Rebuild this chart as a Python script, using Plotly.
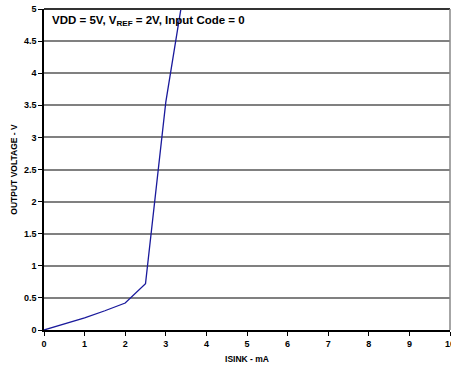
import plotly.graph_objects as go

isink_ma = [0, 0.5, 1.0, 1.5, 2.0, 2.5, 3.0, 3.5]
vout = [0, 0.09, 0.19, 0.30, 0.42, 0.72, 3.55, 5.5]
x_ticks = [0, 1, 2, 3, 4, 5, 6, 7, 8, 9, 10]
y_ticks = [0, 0.5, 1, 1.5, 2, 2.5, 3, 3.5, 4, 4.5, 5]
y_tick_text = ["0", "0.5", "1", "1.5", "2", "2.5", "3", "3.5", "4", "4.5", "5"]

fig = go.Figure()
fig.add_trace(go.Scatter(x=isink_ma, y=vout, mode="lines",
                         line=dict(color="#1a1a9c", width=1.3), showlegend=False,
                         cliponaxis=True))

font_b = dict(family="Liberation Sans, Arial", size=9, color="black")

fig.update_layout(
    width=451, height=365,
    margin=dict(l=44, r=1, t=9, b=35),
    plot_bgcolor="white", paper_bgcolor="white",
    font=font_b,
    xaxis=dict(range=[0, 10], tickvals=x_ticks, ticktext=[f"<b>{v}</b>" for v in x_ticks],
               ticklabeloverflow="allow", automargin=False,
               showgrid=False, zeroline=False, showline=True, linecolor="black",
               linewidth=1.5, ticks="outside", ticklen=4, tickcolor="black",
               title=dict(text="<b>ISINK - mA</b>", font=dict(size=8.5), standoff=9)),
    yaxis=dict(range=[0, 5], tickvals=y_ticks, ticktext=[f"<b>{t}</b>" for t in y_tick_text],
               automargin=False,
               showgrid=True, gridcolor="#808080", gridwidth=1.5, zeroline=False,
               showline=True, linecolor="black", linewidth=1.5,
               ticks="outside", ticklen=4, tickcolor="black",
               title=dict(text="<b>OUTPUT VOLTAGE - V</b>", font=dict(size=8.5), standoff=5)),
)

# top and right borders
fig.add_shape(type="line", xref="paper", yref="paper", x0=0, x1=1, y0=1, y1=1,
              line=dict(color="#333333", width=2))
fig.add_shape(type="line", xref="paper", yref="paper", x0=1, x1=1, y0=0, y1=1,
              line=dict(color="#888888", width=1.5))

fig.add_annotation(xref="paper", yref="paper", x=0.015, y=0.963, xanchor="left", yanchor="middle",
                   showarrow=False,
                   text="<b>VDD = 5V, V<sub>REF</sub> = 2V, Input Code = 0</b>",
                   font=dict(family="Liberation Sans, Arial", size=11.5, color="black"))

fig.write_html("out.html")
